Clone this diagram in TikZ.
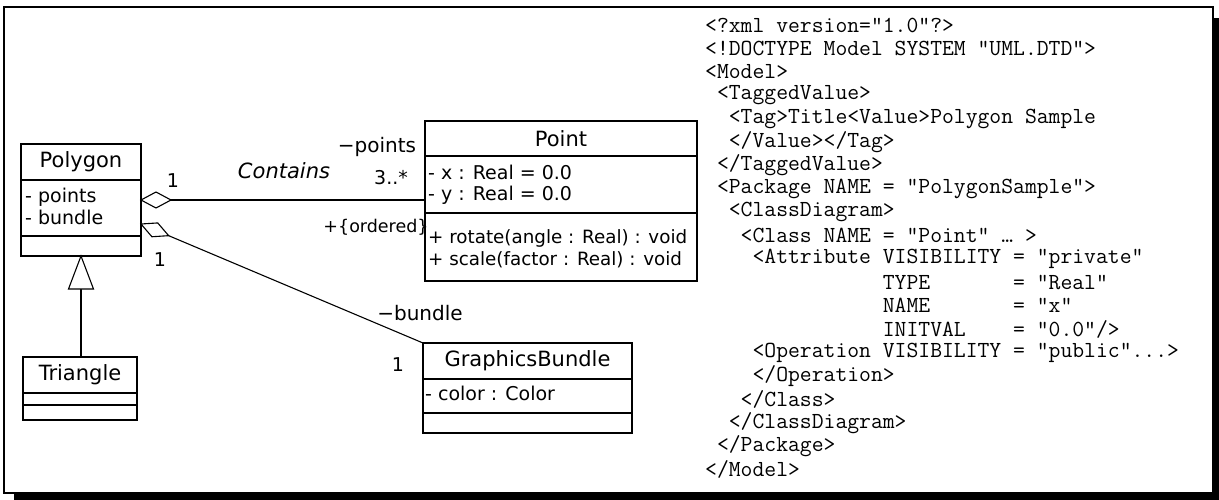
\documentclass[tikz,border=0pt]{standalone}
\usepackage{fontspec}
\setmainfont{DejaVu Sans}
\usetikzlibrary{calc}

\tikzset{
  umlbox/.style={draw=black, line width=1.3pt},
  ttl/.style={font=\fontsize{21}{21}\selectfont, inner sep=0pt},
  mem/.style={font=\fontsize{19}{19}\selectfont, inner sep=0pt, anchor=west},
  opr/.style={mem, font=\fontsize{18.3}{18.3}\selectfont},
  lbl/.style={font=\fontsize{19}{19}\selectfont, inner sep=0pt},
  conn/.style={line width=1.1pt},
  xmlline/.style={font=\ttfamily\fontsize{23}{23}\selectfont, inner sep=0pt, anchor=west},
}
\newcommand{\xmlrow}[3]{\node[xmlline] (#1) at (705,{25+(#2-1)*23.4}) {#3};}

\begin{document}
\begin{tikzpicture}[x=1pt,y=-1pt]
\useasboundingbox (0,0) rectangle (1219,500);

% frame with drop shadow
\fill[black] (14,18) rectangle (1219,500);
\filldraw[fill=white, draw=black, line width=2pt] (4,7) rectangle (1213,493);

% ---- class Polygon
\draw[umlbox] (21,144) rectangle (141,256);
\draw[umlbox] (21,180) -- (141,180) (21,236) -- (141,236);
\node[ttl] (polyname) at (81,162) {Polygon};
\node[mem] (polya1) at (25,197) {- points};
\node[mem] (polya2) at (25,217) {- bundle};
\coordinate (polyR1) at (141,200);
\coordinate (polyR2) at (141,224);
\coordinate (polyB) at (81,256);

% ---- class Point
\draw[umlbox] (425,121) rectangle (697,281);
\draw[umlbox] (425,156) -- (697,156) (425,213) -- (697,213);
\node[ttl] (ptname) at (561,138.5) {Point};
\node[mem] (pta1) at (428,172) {- x : Real = 0.0};
\node[mem] (pta2) at (428,195) {- y : Real = 0.0};
\node[opr] (pto1) at (428,238) {+ rotate(angle : Real) : void};
\node[opr] (pto2) at (428,260) {+ scale(factor : Real) : void};
\coordinate (ptL) at (425,200);

% ---- class Triangle
\draw[umlbox] (23,357) rectangle (137,420);
\draw[umlbox] (23,393) -- (137,393) (23,405) -- (137,405);
\node[ttl] (triname) at (80,375) {Triangle};
\coordinate (triT) at (81,357);

% ---- class GraphicsBundle
\draw[umlbox] (423,343) rectangle (632,433);
\draw[umlbox] (423,379) -- (632,379) (423,413) -- (632,413);
\node[ttl] (gbname) at (527.5,361) {GraphicsBundle};
\node[mem] (gba1) at (425,393) {- color : Color};
\coordinate (gbTL) at (423,343);

% ---- generalization Triangle -> Polygon
\coordinate (genbase) at (81,289);
\draw[conn] (triT) -- (genbase);
\draw[conn, fill=white] (polyB) -- ($(genbase)+(-12.5,0)$) -- ($(genbase)+(12.5,0)$) -- cycle;

% ---- aggregation Polygon <>-- Point
\draw[conn] (polyR1) -- (ptL);
\draw[conn, fill=white] (polyR1) -- ++(15,-8) -- ++(15,8) -- ++(-15,8) -- cycle;

% ---- aggregation Polygon <>-- GraphicsBundle
\draw[conn] (polyR2) -- (gbTL);
\begin{scope}[shift={(polyR2)}, rotate=-22.9]
  \draw[conn, fill=white] (0,0) -- (15,-7.5) -- (30,0) -- (15,7.5) -- cycle;
\end{scope}

% ---- association labels
\node[lbl] (m1) at (173,181) {1};
\node[lbl, font=\itshape\fontsize{21}{21}\selectfont] (assoc) at (284,171) {Contains};
\node[lbl, font=\fontsize{20}{20}\selectfont] (rpts) at (377,147) {−points};
\node[lbl] (m2) at (391,178) {3..*};
\node[lbl, font=\fontsize{17.5}{17.5}\selectfont] (ord) at (376,227) {+\{ordered\}};
\node[lbl] (m3) at (160,260) {1};
\node[lbl, font=\fontsize{20}{20}\selectfont] (rbun) at (420,313) {−bundle};
\node[lbl] (m4) at (398,365) {1};

% ---- XML listing
\xmlrow{x1}{1}{<?xml version="1.0"?>}
\xmlrow{x2}{2}{<!DOCTYPE Model SYSTEM "UML.DTD">}
\xmlrow{x3}{3}{<Model>}
\xmlrow{x4}{4}{\ <TaggedValue>}
\xmlrow{x5}{5}{\ \ <Tag>Title<Value>Polygon Sample}
\xmlrow{x6}{6}{\ \ </Value></Tag>}
\xmlrow{x7}{7}{\ </TaggedValue>}
\xmlrow{x8}{8}{\ <Package NAME = ”PolygonSample">}
\xmlrow{x9}{9}{\ \ <ClassDiagram>}
\xmlrow{x10}{10}{\ \ \ <Class NAME = "Point” … >}
\xmlrow{x11}{11}{\ \ \ \ <Attribute VISIBILITY = "private"}
\xmlrow{x12}{12}{\ \ \ \ \ \ \ \ \ \ \ \ \ \ \ TYPE \ \ \ \ \ \ = "Real"}
\xmlrow{x13}{13}{\ \ \ \ \ \ \ \ \ \ \ \ \ \ \ NAME \ \ \ \ \ \ = "x"}
\xmlrow{x14}{14}{\ \ \ \ \ \ \ \ \ \ \ \ \ \ \ INITVAL \ \ \ = "0.0"/>}
\xmlrow{x15}{15}{\ \ \ \ <Operation VISIBILITY = "public”...>}
\xmlrow{x16}{16}{\ \ \ \ </Operation>}
\xmlrow{x17}{17}{\ \ \ </Class>}
\xmlrow{x18}{18}{\ \ </ClassDiagram>}
\xmlrow{x19}{19}{\ </Package>}
\xmlrow{x20}{20}{</Model>}
\end{tikzpicture}
\end{document}
